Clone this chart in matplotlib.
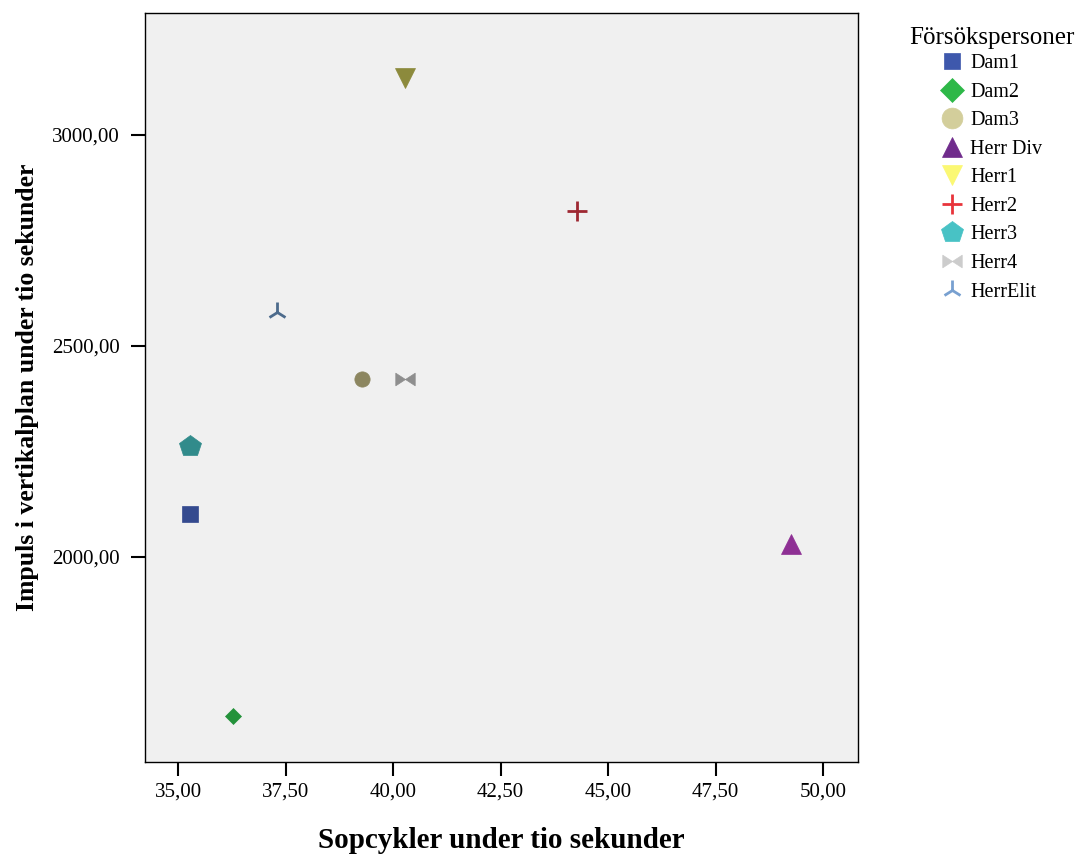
import matplotlib
matplotlib.use("Agg")
import matplotlib.pyplot as plt
from matplotlib.lines import Line2D
from matplotlib.path import Path
import numpy as np

plt.rcParams['font.family'] = ['Liberation Serif', 'DejaVu Serif']

names = ["Dam1", "Dam2", "Dam3", "Herr Div", "Herr1", "Herr2", "Herr3", "Herr4", "HerrElit"]
x_vals = [35.28, 36.28, 39.28, 49.25, 40.28, 44.27, 35.28, 40.28, 37.30]
y_vals = [2102, 1622, 2422, 2030, 3136, 2820, 2263, 2422, 2580]

plot_colors = ["#344a8f", "#23923a", "#8c8660", "#8e3094", "#8c8a3c", "#9e2832", "#318b8b", "#8e8e8e", "#4d6b8c"]
legend_colors = ["#3e58ac", "#2eb848", "#d3ce9b", "#702c8c", "#fbf873", "#e8343b", "#48c2c5", "#cccccc", "#78a0d0"]

bowtie = Path([(-1, -0.65), (0, 0), (-1, 0.65), (-1, -0.65),
               (1, -0.65), (0, 0), (1, 0.65), (1, -0.65)],
              [Path.MOVETO, Path.LINETO, Path.LINETO, Path.CLOSEPOLY,
               Path.MOVETO, Path.LINETO, Path.LINETO, Path.CLOSEPOLY])

markers = ["s", "D", "o", "^", "v", "+", "p", bowtie, "2"]
msizes = [12, 8.5, 11, 14, 15, 14, 16, 14, 14]
lmsizes = [12, 12, 15, 14, 14, 14, 16, 14, 14]

x_ticks = [35.0, 37.5, 40.0, 42.5, 45.0, 47.5, 50.0]
y_ticks = [2000, 2500, 3000]

fig = plt.figure(figsize=(10.77, 8.57), dpi=100)
ax = fig.add_axes([145/1077, 1-762/857, (858-145)/1077, (762-13)/857])
ax.set_facecolor("#f0f0f0")

for i, n in enumerate(names):
    lw = 2 if markers[i] in ("+", "2") else 0.5
    ax.plot([x_vals[i]], [y_vals[i]], linestyle="none", marker=markers[i],
            markersize=msizes[i], color=plot_colors[i], markeredgewidth=lw,
            markeredgecolor=plot_colors[i])

ax.set_xlim(34.23, 50.81)
ax.set_ylim(1514, 3289)
ax.set_xticks(x_ticks)
ax.set_xticklabels([f"{v:.2f}".replace(".", ",") for v in x_ticks])
ax.set_yticks(y_ticks)
ax.set_yticklabels([f"{v:.2f}".replace(".", ",") for v in y_ticks])
ax.tick_params(axis="both", direction="out", length=10, width=1.5, labelsize=15, colors="black")
ax.tick_params(axis="x", pad=5)
ax.tick_params(axis="y", pad=8)
for s in ax.spines.values():
    s.set_linewidth(1)
    s.set_color("black")

ax.set_xlabel("Sopcykler under tio sekunder", fontsize=21, fontweight="bold")
ax.xaxis.set_label_coords(0.5, (762-841)/749)
ax.xaxis.label.set_va("center")
ax.set_ylabel("Impuls i vertikalplan under tio sekunder", fontsize=18.5, fontweight="bold")
ax.yaxis.set_label_coords((28-145)/713, 0.5)
ax.yaxis.label.set_va("center")

handles = []
for i, n in enumerate(names):
    lw = 2 if markers[i] in ("+", "2") else 0.5
    handles.append(Line2D([], [], linestyle="none", marker=markers[i], markersize=lmsizes[i],
                          color=legend_colors[i], markeredgecolor=legend_colors[i], markeredgewidth=lw))

fig.text(909/1077, 1-38/857, "Försökspersoner", fontsize=18, va="center", ha="left")
fig.legend(handles=handles, labels=names, loc="upper left", bbox_to_anchor=(937/1077, 1-54/857),
           frameon=False, fontsize=14.5, handletextpad=0.15, labelspacing=0.47, borderaxespad=0,
           borderpad=0, handlelength=1.5)

fig.savefig("out.png", dpi=100, facecolor="white")
